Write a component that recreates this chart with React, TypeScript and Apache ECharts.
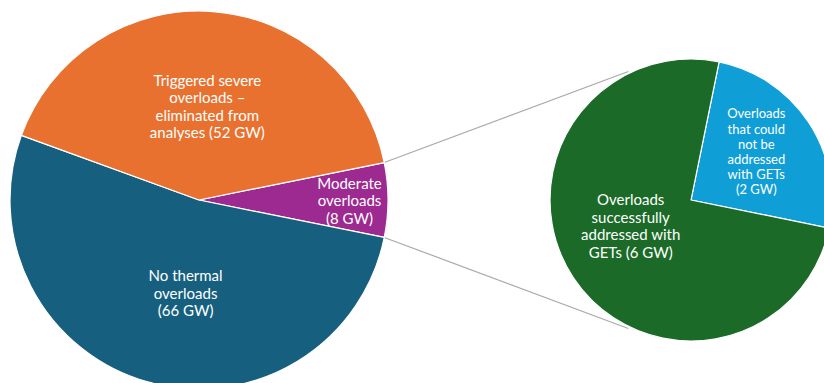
import React, { useEffect, useRef } from "react";
import * as echarts from "echarts";

const mainNames = ["Moderate\noverloads\n(8 GW)", "No thermal\noverloads\n(66 GW)", "Triggered severe\noverloads –\neliminated from\nanalyses (52 GW)"];
const mainValues = [8, 66, 52];
const mainColors = ["#9C2A91", "#175F7F", "#E8712F"];

const subNames = ["Overloads\nthat could\nnot be\naddressed\nwith GETs\n(2 GW)", "Overloads\nsuccessfully\naddressed with\nGETs (6 GW)"];
const subValues = [2, 6];
const subColors = ["#109ED7", "#1B6A27"];

export default function App() {
  const ref = useRef<HTMLDivElement>(null);
  useEffect(() => {
    if (!ref.current) return;
    const chart = echarts.init(ref.current, undefined, { renderer: "svg" });
    const c1 = [199, 200];
    const r1 = 189;
    const c2 = [691, 200];
    const r2 = 141;
    const total = mainValues.reduce((a, b) => a + b, 0);
    const half = (mainValues[0] / total) * 180;
    const subTotal = subValues.reduce((a, b) => a + b, 0);
    const subStart = -11.5 + (subValues[0] / subTotal) * 360;
    const rad = (d: number) => (d * Math.PI) / 180;
    const p1u = [c1[0] + r1 * Math.cos(rad(half)), c1[1] - r1 * Math.sin(rad(half))];
    const p1d = [c1[0] + r1 * Math.cos(rad(half)), c1[1] + r1 * Math.sin(rad(half))];
    const a2 = 116;
    const p2u = [c2[0] + (r2 + 2) * Math.cos(rad(a2)), c2[1] - (r2 + 2) * Math.sin(rad(a2))];
    const p2d = [c2[0] + (r2 + 2) * Math.cos(rad(a2)), c2[1] + (r2 + 2) * Math.sin(rad(a2))];
    const font = "Lato, 'Noto Sans', sans-serif";
    const mainOffsets = [[53, 0], [13, -1], [1, 3]];
    const subOffsets = [[4, -8], [1, -15]];
    chart.setOption({
      animation: false,
      graphic: [
        { type: "line", z: 0, shape: { x1: p1u[0], y1: p1u[1], x2: p2u[0], y2: p2u[1] }, style: { stroke: "#A9A9A9", lineWidth: 1.2 } },
        { type: "line", z: 0, shape: { x1: p1d[0], y1: p1d[1], x2: p2d[0], y2: p2d[1] }, style: { stroke: "#A9A9A9", lineWidth: 1.2 } },
      ],
      series: [
        {
          type: "pie",
          center: c1,
          radius: [0, r1],
          startAngle: half,
          clockwise: true,
          silent: true,
          itemStyle: { borderColor: "#ffffff", borderWidth: 1.2 },
          label: {
            position: "inside",
            color: "#ffffff",
            fontFamily: font,
            fontSize: 15,
            lineHeight: 17.5,
            align: "center",
          },
          labelLine: { show: false },
          data: mainValues.map((v, i) => ({
            value: v,
            name: mainNames[i],
            itemStyle: { color: mainColors[i] },
            label: { offset: mainOffsets[i] },
          })),
        },
        {
          type: "pie",
          center: c2,
          radius: [0, r2],
          startAngle: subStart,
          clockwise: true,
          silent: true,
          itemStyle: { borderColor: "#ffffff", borderWidth: 1.2 },
          label: {
            position: "inside",
            color: "#ffffff",
            fontFamily: font,
            fontSize: 15,
            lineHeight: 17.5,
            align: "center",
          },
          labelLine: { show: false },
          data: subValues.map((v, i) => ({
            value: v,
            name: subNames[i],
            itemStyle: { color: subColors[i] },
            label: i === 0 ? { offset: subOffsets[i], fontSize: 13, lineHeight: 15.2 } : { offset: subOffsets[i] },
          })),
        },
      ],
    });
    return () => chart.dispose();
  }, []);
  return <div ref={ref} style={{ position: "absolute", left: 0, top: 0, width: 824, height: 383, background: "#ffffff" }} />;
}
